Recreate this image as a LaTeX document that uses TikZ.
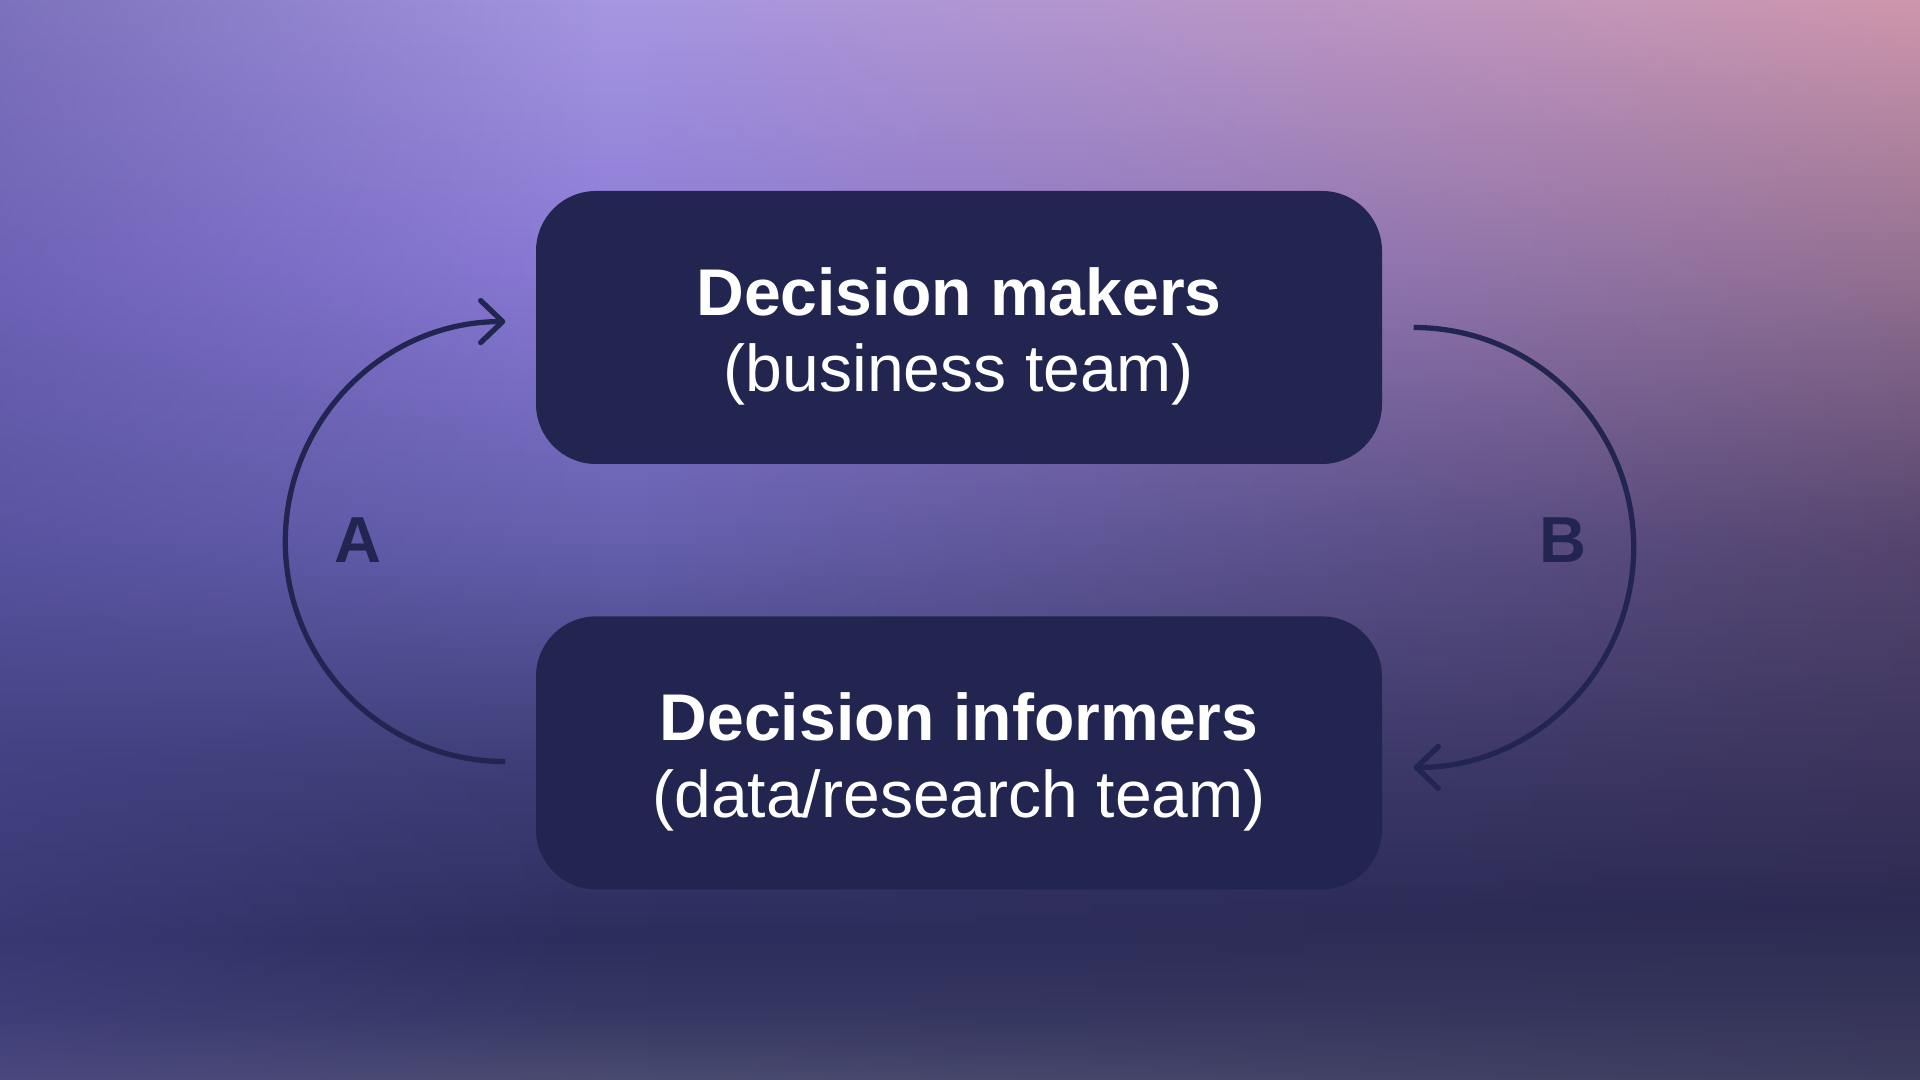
\documentclass[tikz,border=0pt]{standalone}
\usepackage{fontspec}
\setmainfont{Liberation Sans}
\usetikzlibrary{positioning,arrows.meta,calc,fadings}
\definecolor{ink}{HTML}{222550}
% background stops, bottom to top
\definecolor{bgA}{HTML}{4A4B70}
\definecolor{bgB}{HTML}{363864}
\definecolor{bgC}{HTML}{2C2D5C}
\definecolor{bgD}{HTML}{3E3F78}
\definecolor{bgE}{HTML}{6560AE}
\definecolor{bgF}{HTML}{8B7AD6}
\definecolor{bgG}{HTML}{A696E0}
% the warm side on the right
\definecolor{duA}{HTML}{3C3C5E}
\definecolor{duB}{HTML}{2C2A52}
\definecolor{duC}{HTML}{54446C}
\definecolor{duD}{HTML}{94708F}
\definecolor{duE}{HTML}{D096AA}
\definecolor{shadeL}{HTML}{4A4590}
\pgfdeclareverticalshading{skyfall}{100bp}{color(0bp)=(bgA); color(25bp)=(bgA);
  color(28bp)=(bgB); color(31.5bp)=(bgC); color(40bp)=(bgD); color(50bp)=(bgE);
  color(62.5bp)=(bgF); color(75bp)=(bgG); color(100bp)=(bgG)}
\pgfdeclareverticalshading{duskside}{100bp}{color(0bp)=(duA); color(25bp)=(duA);
  color(33bp)=(duB); color(50bp)=(duC); color(62.5bp)=(duD); color(75bp)=(duE);
  color(100bp)=(duE)}
\tikzfading[name=fade right, left color=transparent!100, right color=transparent!0]
\tikzfading[name=fade left, left color=transparent!0, right color=transparent!100]
\tikzset{
  teambox/.style={rectangle, rounded corners=6mm, fill=ink, text=white,
                  minimum width=8.46cm, minimum height=2.73cm, inner sep=0pt,
                  text height=14mm, text depth=1.1mm,
                  align=center, font=\fontsize{18.8}{21.8}\selectfont},
  tag/.style    ={text=ink, font=\fontsize{18.5}{20}\selectfont\bfseries},
  % the feedback loop on either side
  loop/.style   ={draw=ink, line width=1.5pt,
                  -{Straight Barb[length=2.2mm, width=4.2mm, round]}},
}

\begin{document}
\begin{tikzpicture}
\useasboundingbox (0,0) rectangle (19.2,10.8);
% --- background ---
\shade[shading=skyfall] (0,0) rectangle (19.2,10.8);
\shade[shading=duskside, path fading=fade right, opacity=0.97] (6.5,0) rectangle (19.2,10.8);
\fill[shadeL, path fading=fade left, opacity=0.45] (0,0) rectangle (6,10.8);
% --- the two teams ---
\node[teambox] (makers) at (9.59,7.525)
  {\textbf{Decision makers}\\(business team)};
\node[teambox, below=1.51cm of makers] (informers)
  {\textbf{Decision informers}\\(data/research team)};
% --- loops ---
\draw[loop] ([shift={(-0.30,-0.087)}]informers.west) arc[start angle=270, end angle=90, radius=2.2];
\draw[loop] ([shift={(0.31,0)}]makers.east) arc[start angle=90, end angle=-90, radius=2.2];
\node[tag] (labA) at (3.58,5.40) {A};
\node[tag] (labB) at (15.63,5.40) {B};
\end{tikzpicture}
\end{document}
